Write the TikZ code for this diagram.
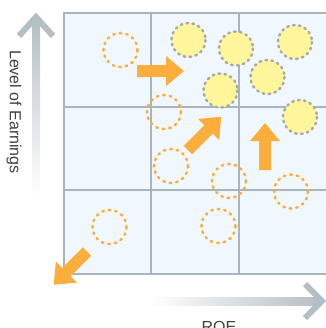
\documentclass[tikz,border=0pt]{standalone}
\usepackage{fontspec}
\setmainfont{Liberation Sans}
\usetikzlibrary{shadings}
\definecolor{gridfill}{HTML}{F0F8FE}
\definecolor{gridline}{HTML}{A8B5BE}
\definecolor{orng}{HTML}{FBAE3C}
\definecolor{yel}{HTML}{FFF59A}
\definecolor{dashgray}{HTML}{A7A9AC}
\definecolor{axisgray}{HTML}{B4BEC5}
\definecolor{txt}{HTML}{404040}
\tikzset{
  oldpos/.style={draw=orng, line width=2.5bp, line cap=round, dash pattern=on 1.6bp off 5bp},
  newpos/.style={fill=yel, draw=dashgray, line width=2.5bp, line cap=round, dash pattern=on 1.6bp off 4.4bp},
  gridln/.style={draw=gridline, line width=2bp},
  chevron/.style={draw=axisgray, line width=6bp, miter limit=10},
  lbl/.style={font=\fontsize{16bp}{18bp}\selectfont, text=txt, inner sep=0pt}
}
\newcommand\fatarrow[3]{%
  \begin{scope}[shift={#1}, rotate=#2]
    \fill[orng] (0,-6) -- (#3-18,-6) -- (#3-18,-15) -- (#3,0) -- (#3-18,15) -- (#3-18,6) -- (0,6) -- cycle;
  \end{scope}}
\begin{document}
\begin{tikzpicture}[x=1bp,y=-1bp]
\useasboundingbox (0,0) rectangle (326,328);
\clip (0,0) rectangle (326,328);
% grid
\fill[gridfill] (64,13) rectangle (330,274);
\draw[gridln] (151,13) -- (151,274) (239,13) -- (239,274) (64,107) -- (330,107) (64,190) -- (330,190);
\draw[draw=gridline, line width=2.6bp] (330,13) -- (64,13) -- (64,274) -- (330,274);
% axes
\shade[top color=axisgray, bottom color=white] (32,18) rectangle (40,196);
\draw[chevron] (19,36) -- (36,17) -- (53,36);
\shade[left color=white, right color=axisgray] (150,297) rectangle (322,305);
\draw[chevron] (305,284) -- (322,301) -- (305,318);
\node[lbl, rotate=-90] (yl) at (14,112) {Level of Earnings};
\node[lbl, anchor=north] (xl) at (219,321.5) {ROE};
% old positions
\draw[oldpos] (120.5,50) circle (17);
\draw[oldpos] (164,112) circle (17);
\draw[oldpos] (171,166) circle (17);
\draw[oldpos] (229,181) circle (17);
\draw[oldpos] (291,191.5) circle (17);
\draw[oldpos] (218.5,226) circle (17);
\draw[oldpos] (109.5,227) circle (17);
% new positions
\draw[newpos] (188.5,40) circle (17);
\draw[newpos] (236,48.5) circle (17);
\draw[newpos] (295,42) circle (17);
\draw[newpos] (220.5,90.5) circle (17);
\draw[newpos] (267.5,77) circle (17);
\draw[newpos] (300,117) circle (17);
% arrows
\fatarrow{(137,71)}{0}{47}
\fatarrow{(188,150)}{45}{47}
\fatarrow{(265,170)}{90}{47}
\fatarrow{(87,251.5)}{225}{47}
\end{tikzpicture}
\end{document}
